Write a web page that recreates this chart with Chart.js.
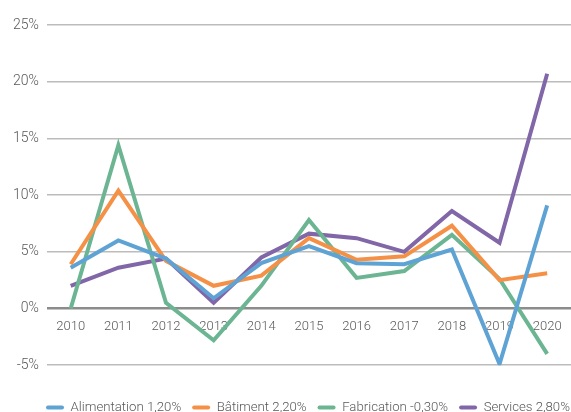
<!DOCTYPE html>
<html>
<head>
<meta charset="utf-8">
<script src="https://cdn.jsdelivr.net/npm/chart.js@4.4.0/dist/chart.umd.min.js"></script>
<style>
html,body{margin:0;padding:0;background:#fff;}
#wrap{width:571px;height:412px;position:relative;overflow:hidden;}
</style>
</head>
<body>
<div id="wrap"><canvas id="c" width="571" height="412"></canvas></div>
<script>
const years = ['2010','2011','2012','2013','2014','2015','2016','2017','2018','2019','2020'];
const alimentation = [3.6, 6.0, 4.4, 0.9, 4.0, 5.5, 4.0, 3.9, 5.2, -4.9, 9.1];
const batiment = [3.9, 10.4, 4.2, 2.0, 2.9, 6.2, 4.3, 4.6, 7.3, 2.5, 3.1];
const fabrication = [0.0, 14.4, 0.5, -2.8, 2.0, 7.8, 2.7, 3.3, 6.5, 2.6, -4.0];
const services = [2.0, 3.6, 4.4, 0.5, 4.5, 6.6, 6.2, 5.0, 8.6, 5.8, 20.7];
const seriesNames = ['Alimentation 1,20%', 'Bâtiment 2,20%', 'Fabrication -0,30%', 'Services 2,80%'];
const yTicks = [-5, 0, 5, 10, 15, 20, 25];

const colors = ['#5fa3d5', '#f59147', '#6cb593', '#8166a8'];
const data = [alimentation, batiment, fabrication, services];

// shift the legend row so it starts where the reference's does
const legendShift = {
  id: 'legendShift',
  afterLayout(chart) {
    const lg = chart.legend;
    if (!lg || !lg.lineWidths) return;
    const p = lg.options.labels.padding;
    const start = (lg.left + p + lg.right - lg.lineWidths[0]) / 2;
    const d = 46 - start;
    lg.left += d;
    lg.right += d;
  }
};

new Chart(document.getElementById('c'), {
  type: 'line',
  data: {
    labels: years,
    datasets: data.map((d, i) => ({
      label: seriesNames[i],
      data: d,
      borderColor: colors[i],
      backgroundColor: colors[i],
      borderWidth: 4,
      pointRadius: 0,
      tension: 0,
      fill: false
    }))
  },
  plugins: [legendShift],
  options: {
    responsive: false,
    animation: false,
    layout: { padding: { top: 25, right: 0, left: 5, bottom: -12 } },
    plugins: {
      legend: {
        position: 'bottom',
        title: { display: true, text: ' ', padding: { top: 9, bottom: 0 }, font: { size: 13 } },
        labels: {
          boxWidth: 18,
          boxHeight: 4,
          padding: 11,
          color: '#595959',
          font: { family: 'Roboto', size: 13.2, weight: 300 },
          generateLabels: (chart) => chart.data.datasets.map((ds, i) => ({
            text: ds.label,
            fillStyle: ds.borderColor,
            strokeStyle: ds.borderColor,
            lineWidth: 0,
            borderRadius: 2,
            datasetIndex: i,
            fontColor: '#595959'
          }))
        }
      },
      tooltip: { enabled: false }
    },
    scales: {
      x: {
        position: { y: 0 },
        offset: true,
        grid: { display: false },
        border: { display: false },
        ticks: { color: '#595959', font: { family: 'Roboto', size: 13, weight: 300 }, padding: 2 }
      },
      y: {
        min: -5,
        max: 25,
        afterBuildTicks: (s) => { s.ticks = yTicks.map(v => ({ value: v })); },
        grid: {
          color: (ctx) => ctx.tick && ctx.tick.value === 0 ? '#8c8c8c' : '#bcbcbc',
          lineWidth: (ctx) => ctx.tick && ctx.tick.value === 0 ? 2.5 : 1.5,
          drawTicks: false
        },
        border: { display: false },
        ticks: {
          color: '#595959',
          font: { family: 'Roboto', size: 14, weight: 300 },
          padding: 8,
          callback: (v) => v + '%'
        }
      }
    }
  }
});
</script>
</body>
</html>
